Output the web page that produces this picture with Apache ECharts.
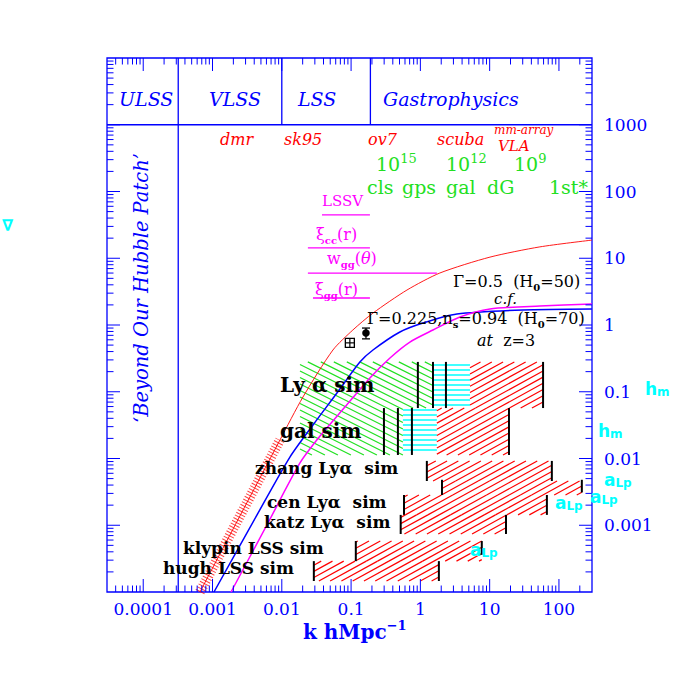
<!DOCTYPE html>
<html><head><meta charset="utf-8">
<script src="https://cdn.jsdelivr.net/npm/echarts@6/dist/echarts.min.js"></script>
<style>html,body{margin:0;padding:0;background:#fff}#c{width:692px;height:692px}</style>
</head><body><div id="c"></div>
<script>
// ---------- axis ranges & tick labels ----------
const kRange = [3e-5, 300];
const dRange = [1e-4, 1e4];
const xTickLabels = {'-4':'0.0001','-3':'0.001','-2':'0.01','-1':'0.1','0':'1','1':'10','2':'100'};
const yTickLabels = {'-3':'0.001','-2':'0.01','-1':'0.1','0':'1','1':'10','2':'100','3':'1000'};
const xDecades = [1e-5,1e-4,1e-3,1e-2,1e-1,1,10,100];
const yDecades = [1e-4,1e-3,1e-2,1e-1,1,10,100,1000];
const minorMultipliers = [2,3,4,5,6,7,8,9];

// ---------- curves ----------
const gamma05K = [0.000659,0.00249,0.0094,0.0202,0.0547,0.106,0.207,0.64,1.91,10.1,53,299];
const gamma05D = [0.0001,0.00138,0.0189,0.0834,0.422,0.841,1.51,3.34,6.01,10.4,14.8,18.7];
const asteriskPoints = 3; // first points of the Gamma=0.5 curve carry the asterisk data band
const blueK = [0.00105,0.00439,0.0131,0.0282,0.0625,0.134,0.207,0.507,1.09,3.37,30.2,299];
const blueD = [0.0001,0.00143,0.0105,0.0318,0.0957,0.279,0.422,0.785,1.07,1.46,1.68,1.74];
const magentaK = [0.00185,0.00631,0.0183,0.0356,0.0815,0.187,0.364,0.706,1.52,3.72,10.1,53,299];
const magentaD = [0.0001,0.00108,0.00857,0.0217,0.0591,0.161,0.321,0.556,0.841,1.32,1.74,1.93,2.07];

// ---------- data points ----------
const crossPointK = [0.096], crossPointD = [0.54];
const dotPointK = [0.164], dotPointD = [0.76], dotErrLo = [0.62], dotErrHi = [0.90];

// ---------- scale bands ----------
const bandFloor = 1000;
const dividerK = [0.00032, 0.01, 0.19];
const dividerLow = [1e-4, 1000, 1000];

// ---------- magenta range bars ----------
const barD = [44.5, 14.3, 6.0, 2.54];
const barK0 = [0.038, 0.0238, 0.0238, 0.0282];
const barK1 = [0.187, 0.187, 1.73, 0.187];

// ---------- simulation boxes [kMin,kMax,dMin,dMax] ----------
const greenBoxes = [[0.0183,1.52,0.057,0.28],[0.0183,0.56,0.0113,0.057]];
const cyanBoxes  = [[1.52,5.2,0.057,0.28],[0.56,1.73,0.0113,0.057]];
const redBoxes = [
  [5.2,59,0.057,0.28],      // Ly alpha sim
  [1.73,19,0.0113,0.057],   // gal sim
  [1.24,79,0.0046,0.0092],  // zhang
  [2.05,214,0.00284,0.0046],
  [0.58,67,0.00143,0.00284],// cen
  [0.52,17.2,0.00074,0.00143], // katz
  [0.117,7.7,0.00029,0.00058], // klypin
  [0.029,1.85,0.000146,0.00029] // hugh
];
const blackMarks = [ // [k, dMin, dMax]
  [0.92,0.057,0.28],[1.52,0.057,0.28],[2.34,0.057,0.28],[59,0.057,0.28],
  [0.298,0.0113,0.057],[0.474,0.0113,0.057],[0.755,0.0113,0.057],[19,0.0113,0.057],
  [1.24,0.0046,0.0092],[79,0.0046,0.0092],
  [2.05,0.00284,0.0048],[214,0.0031,0.0048],
  [0.58,0.00143,0.00284],[67,0.00143,0.00284],
  [0.52,0.00074,0.00143],[17.2,0.00074,0.00143],
  [0.117,0.00029,0.00058],[7.7,0.00036,0.00058],
  [0.029,0.000146,0.00029],[1.85,0.000146,0.00029]
];

// ---------- styles ----------
const BLUE='#0000ff', RED='#ff0000', GREEN='#22e022', MAG='#ff00ff', CYAN='#00ffff', BLACK='#000000';
const SERIF='DejaVu Serif', SANS='DejaVu Sans';
const HATCH = {
  red:{color:RED, slope:-0.55, gap:6.2, width:1.2},
  green:{color:GREEN, slope:0.5, gap:6.5, width:1.2},
  cyan:{color:CYAN, slope:0, gap:5, width:1.5}
};

function logTicks(decades, lo, hi){
  const out=[];
  decades.forEach(d=>{
    if(d>lo*1.0001 && d<hi/1.0001) out.push([d,1]);
    minorMultipliers.forEach(m=>{const v=d*m; if(v>lo*1.0001 && v<hi/1.0001) out.push([v,0]);});
  });
  return out;
}
function decadeLabel(map){
  return function(v){ const e=Math.log10(v), r=Math.round(e); if(Math.abs(e-r)>1e-6) return ''; return map[String(r)]||''; };
}
function zip(a,b){ return a.map((v,i)=>[v,b[i]]); }
function seg(pts,color,width,z,extra){
  return Object.assign({type:'line', data:pts, symbol:'none', silent:true, animation:false, z:z||3,
    lineStyle:{color:color, width:width}}, extra||{});
}
function hatchRender(kind){
  return function(params, api){
    const a=api.coord([api.value(0),api.value(3)]), b=api.coord([api.value(1),api.value(2)]);
    const L=Math.min(a[0],b[0]), R=Math.max(a[0],b[0]), T=Math.min(a[1],b[1]), B=Math.max(a[1],b[1]);
    const H=HATCH[kind], ch=[];
    const st={stroke:H.color, lineWidth:H.width};
    if(H.slope===0){
      for(let y=Math.ceil(T/H.gap)*H.gap; y<=B; y+=H.gap) ch.push({type:'line',shape:{x1:L,y1:y,x2:R,y2:y},style:st});
    } else {
      const s=H.slope, g=H.gap;
      const bs=[T-s*L,T-s*R,B-s*L,B-s*R], bmin=Math.min.apply(null,bs), bmax=Math.max.apply(null,bs);
      for(let c=Math.ceil(bmin/g)*g; c<=bmax; c+=g){
        const xT=(T-c)/s, xB=(B-c)/s;
        const x1=Math.max(L,Math.min(xT,xB)), x2=Math.min(R,Math.max(xT,xB));
        if(x2>x1+0.5) ch.push({type:'line',shape:{x1:x1,y1:c+s*x1,x2:x2,y2:c+s*x2},style:st});
      }
    }
    return {type:'group', children:ch};
  };
}
function hatchSeries(boxes, kind){
  return {type:'custom', renderItem:hatchRender(kind), data:boxes, encode:{x:[0,1],y:[2,3]}, silent:true, animation:false, z:1};
}

const xTickData = logTicks(xDecades,kRange[0],kRange[1]).map(t=>[t[0],1,t[1]]);
const yTickData = logTicks(yDecades,dRange[0],dRange[1]).map(t=>[1,t[0],t[1]]);
const curveOpts = {smooth:0.25};

const series = [
  hatchSeries(greenBoxes,'green'),
  hatchSeries(cyanBoxes,'cyan'),
  hatchSeries(redBoxes,'red'),
  {type:'custom', data:blackMarks, encode:{x:0,y:[1,2]}, silent:true, animation:false, z:2,
   renderItem:function(p,api){const a=api.coord([api.value(0),api.value(1)]), b=api.coord([api.value(0),api.value(2)]);
     return {type:'line',shape:{x1:a[0],y1:a[1],x2:b[0],y2:b[1]},style:{stroke:BLACK,lineWidth:2}};}},
  // scale band frame
  seg([[kRange[0],bandFloor],[kRange[1],bandFloor]],BLUE,1.3,4),
  ...dividerK.map((k,i)=>seg([[k,dividerLow[i]],[k,dRange[1]]],BLUE,1.3,4)),
  // magenta range bars
  ...barD.map((d,i)=>seg([[barK0[i],d],[barK1[i],d]],MAG,1.3,4)),
  // curves
  seg(zip(gamma05K,gamma05D).slice(0,asteriskPoints),RED,10,3,{lineStyle:{color:RED,width:10,type:[1,2],opacity:0.75}}),
  seg(zip(gamma05K,gamma05D),RED,0.9,4,curveOpts),
  seg(zip(blueK,blueD),BLUE,1.5,4,curveOpts),
  seg(zip(magentaK,magentaD),MAG,1.5,4,curveOpts),
  // data points
  {type:'custom', data:zip(crossPointK,crossPointD), silent:true, animation:false, z:5,
   renderItem:function(p,api){const c=api.coord([api.value(0),api.value(1)]), h=4.5;
     return {type:'group',children:[
       {type:'rect',shape:{x:c[0]-h,y:c[1]-h,width:2*h,height:2*h},style:{stroke:BLACK,fill:'#fff',lineWidth:1.3}},
       {type:'line',shape:{x1:c[0]-h,y1:c[1],x2:c[0]+h,y2:c[1]},style:{stroke:BLACK,lineWidth:1.2}},
       {type:'line',shape:{x1:c[0],y1:c[1]-h,x2:c[0],y2:c[1]+h},style:{stroke:BLACK,lineWidth:1.2}}]};}},
  {type:'custom', data:dotPointK.map((k,i)=>[k,dotPointD[i],dotErrLo[i],dotErrHi[i]]), encode:{x:0,y:[1,2,3]}, silent:true, animation:false, z:5,
   renderItem:function(p,api){const c=api.coord([api.value(0),api.value(1)]), lo=api.coord([api.value(0),api.value(2)]), hi=api.coord([api.value(0),api.value(3)]);
     return {type:'group',children:[
       {type:'line',shape:{x1:c[0],y1:lo[1],x2:c[0],y2:hi[1]},style:{stroke:BLACK,lineWidth:1.3}},
       {type:'line',shape:{x1:c[0]-4,y1:lo[1],x2:c[0]+4,y2:lo[1]},style:{stroke:BLACK,lineWidth:1.3}},
       {type:'line',shape:{x1:c[0]-4,y1:hi[1],x2:c[0]+4,y2:hi[1]},style:{stroke:BLACK,lineWidth:1.3}},
       {type:'circle',shape:{cx:c[0],cy:c[1],r:3.8},style:{fill:BLACK}}]};}},
  // log ticks on all four sides
  {type:'custom', data:xTickData, silent:true, animation:false, z:6,
   renderItem:function(p,api){const v=api.value(0), L=api.value(2)?13:6.5;
     const b=api.coord([v,dRange[0]]), t=api.coord([v,dRange[1]]), st={stroke:BLUE,lineWidth:1};
     return {type:'group',children:[{type:'line',shape:{x1:b[0],y1:b[1],x2:b[0],y2:b[1]-L},style:st},
       {type:'line',shape:{x1:t[0],y1:t[1],x2:t[0],y2:t[1]+L},style:st}]};}},
  {type:'custom', data:yTickData, silent:true, animation:false, z:6,
   renderItem:function(p,api){const v=api.value(1), L=api.value(2)?13:6.5;
     const l=api.coord([kRange[0],v]), r=api.coord([kRange[1],v]), st={stroke:BLUE,lineWidth:1};
     return {type:'group',children:[{type:'line',shape:{x1:l[0],y1:l[1],x2:l[0]+L,y2:l[1]},style:st},
       {type:'line',shape:{x1:r[0],y1:r[1],x2:r[0]-L,y2:r[1]},style:st}]};}}
];

// ---------- text annotations ----------
function T(x,y,text,st,rich){
  const style=Object.assign({text:text, x:0, y:0, align:'left', verticalAlign:'middle', fill:BLACK, fontFamily:SERIF, fontSize:16}, st||{});
  if(rich) style.rich=rich;
  return {type:'text', x:x, y:y, z:100, silent:true, style:style};
}
function subRich(color,size,subSize,family,weight,subWeight,lh){
  return {
    m:{fontSize:size,fontFamily:family,fontWeight:weight||'normal',fill:color,lineHeight:lh||size+6,verticalAlign:'middle'},
    i:{fontSize:size,fontFamily:family,fontStyle:'italic',fill:color,lineHeight:lh||size+6,verticalAlign:'middle'},
    s:{fontSize:subSize,fontFamily:family,fontWeight:subWeight||'bold',fill:color,lineHeight:subSize,verticalAlign:'bottom'},
    p:{fontSize:subSize,fontFamily:family,fontWeight:subWeight||'normal',fill:color,lineHeight:subSize,verticalAlign:'top'}
  };
}
const bandFont={fontFamily:SERIF,fontStyle:'italic',fontSize:19,fill:BLUE};
const redFont={fontFamily:SERIF,fontStyle:'italic',fontSize:16,fill:RED};
const greenRich=subRich(GREEN,19,13,SERIF,'normal','normal',24);
const magRich=subRich(MAG,16,10,SERIF,'normal','bold',22);
const blkRich=subRich(BLACK,16,10,SERIF,'normal','bold',22);
const cyanRich=subRich(CYAN,17,12,SANS,'bold','bold',17);
const simFont={fontFamily:SERIF,fontWeight:'bold',fontSize:17,fill:BLACK};

const graphics = [
  T(119,99,'ULSS',bandFont), T(209,99,'VLSS',bandFont), T(298,99,'LSS',bandFont), T(383,99,'Gastrophysics',bandFont),
  T(220,139,'dmr',redFont), T(284,139,'sk95',redFont), T(368,139,'ov7',redFont), T(437,139,'scuba',redFont),
  T(494,130,'mm-array',Object.assign({},redFont,{fontSize:12,lineHeight:11})), T(498,146,'VLA',Object.assign({},redFont,{fontSize:15,lineHeight:13})),
  T(376,164,'{m|10}{p|15}',{},greenRich), T(446,164,'{m|10}{p|12}',{},greenRich), T(514,164,'{m|10}{p|9}',{},greenRich),
  T(367,187,'cls',{fill:GREEN,fontSize:19}), T(402,187,'gps',{fill:GREEN,fontSize:19}), T(446,187,'gal',{fill:GREEN,fontSize:19}),
  T(487,187,'dG',{fill:GREEN,fontSize:19}), T(549,187,'1st*',{fill:GREEN,fontSize:19}),
  T(322,201,'LSSV',{fill:MAG,fontSize:15}),
  T(316,234,'{m|ξ}{s|cc}{m|(r)}',{},magRich),
  T(327,258,'{m|w}{s|gg}{m|(}{i|θ}{m|)}',{},magRich),
  T(315,289,'{m|ξ}{s|gg}{m|(r)}',{},magRich),
  T(453,281,'{m|Γ=0.5  (H}{s|0}{m|=50)}',{},blkRich),
  T(494,299,'c.f.',{fontStyle:'italic',fontSize:15}),
  T(367,318,'{m|Γ=0.225,n}{s|s}{m|=0.94  (H}{s|0}{m|=70)}',{},blkRich),
  T(477,340,'{i|at}{m|  z=3}',{},blkRich),
  T(280,385,'Ly α sim',{fontWeight:'bold',fontSize:20}),
  T(280,431,'gal sim',{fontWeight:'bold',fontSize:20}),
  T(255,468,'zhang Lyα  sim',simFont), T(267,502,'cen Lyα  sim',simFont), T(264,522,'katz Lyα  sim',simFont),
  T(183,548,'klypin LSS sim',simFont), T(163,568,'hugh LSS sim',simFont),
  T(645,389,'{m|h}{s|m}',{},cyanRich), T(598,431,'{m|h}{s|m}',{},cyanRich),
  T(604,480,'{m|a}{s|Lp}',{},cyanRich), T(590,497,'{m|a}{s|Lp}',{},cyanRich),
  T(555,503,'{m|a}{s|Lp}',{},cyanRich), T(470,550,'{m|a}{s|Lp}',{},cyanRich),
  T(2,225,'∇',{fill:CYAN,fontFamily:SANS,fontWeight:'bold',fontSize:16}),
  {type:'text', x:141, y:288, rotation:Math.PI/2, z:100, silent:true,
   style:{text:'‘Beyond Our Hubble Patch’', align:'center', verticalAlign:'middle', fill:BLUE, fontFamily:SERIF, fontStyle:'italic', fontSize:19.5}},
  T(303,632,'{m|k hMpc}{p|−1}',{},subRich(BLUE,20,13,SERIF,'bold','bold',27))
];

const chart = echarts.init(document.getElementById('c'), null, {renderer:'svg', width:692, height:692});
chart.setOption({
  animation:false,
  backgroundColor:'#ffffff',
  grid:{left:107, right:100, top:58, bottom:100, show:true, borderColor:BLUE, borderWidth:1.3, backgroundColor:'transparent'},
  xAxis:{type:'log', logBase:10, min:kRange[0], max:kRange[1], splitNumber:7,
    axisLine:{show:false}, axisTick:{show:false}, splitLine:{show:false}, minorTick:{show:false},
    axisLabel:{formatter:decadeLabel(xTickLabels), color:BLUE, fontFamily:SERIF, fontSize:17, margin:8, showMinLabel:true, showMaxLabel:true}},
  yAxis:{type:'log', logBase:10, min:dRange[0], max:dRange[1], splitNumber:8, position:'right',
    axisLine:{show:false}, axisTick:{show:false}, splitLine:{show:false}, minorTick:{show:false},
    axisLabel:{formatter:decadeLabel(yTickLabels), color:BLUE, fontFamily:SERIF, fontSize:17, margin:12}},
  series:series,
  graphic:graphics
});
</script></body></html>
